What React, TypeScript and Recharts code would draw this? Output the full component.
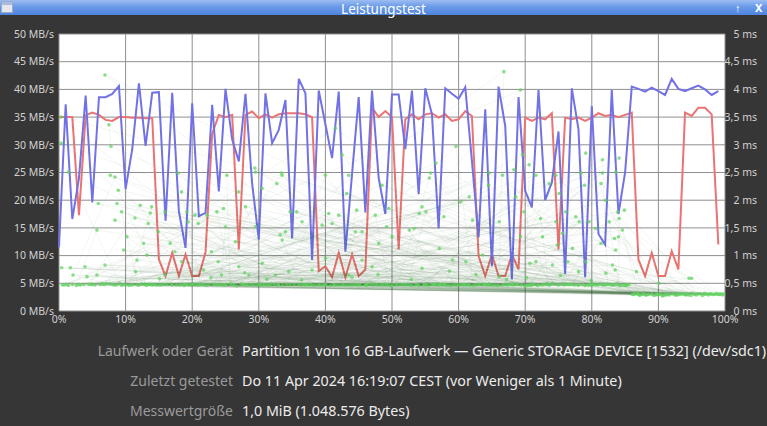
import React from 'react';
import { ComposedChart, Line, Scatter, XAxis, YAxis, CartesianGrid } from 'recharts';

const percentTicks = [0, 10, 20, 30, 40, 50, 60, 70, 80, 90, 100];
const rateTicks = [0, 5, 10, 15, 20, 25, 30, 35, 40, 45, 50];
const msTicks = [0, 0.5, 1, 1.5, 2, 2.5, 3, 3.5, 4, 4.5, 5];

// read rate (MB/s) at 0..99 %
const readRate = [
  11.5, 37.3, 16.6, 24, 38.9, 19.6, 38.6, 38.6, 39.2, 40.6,
  22, 29.2, 41.1, 29.8, 39.4, 39.5, 16.3, 39.4, 18, 11.4,
  37.5, 17.1, 17.7, 37.2, 21.6, 40.1, 31, 27, 39.2, 23,
  12.9, 39.3, 30.3, 32.7, 38.1, 13.1, 41.9, 39.3, 9.2, 39.8,
  33.7, 27.6, 39.6, 10.7, 24.7, 38.6, 17.8, 39.8, 24, 17.5,
  39.1, 39.1, 29.2, 39.8, 21.1, 40.2, 35.5, 14.9, 40.2, 39.2,
  38.3, 40.4, 27.1, 13.3, 36.4, 8.1, 40.5, 33.4, 5.7, 38.6,
  21.7, 18.7, 39.9, 20, 23.2, 32.4, 6.7, 40.2, 32.8, 6.1,
  37, 13.9, 12, 39.9, 17.5, 25, 40.5, 40.1, 39.6, 40.3,
  39.7, 39, 41.9, 40.1, 39.7, 40.2, 40.7, 40, 39, 39.7,
];

// write rate (MB/s) at 0..99 %
const writeRate = [
  35, 35, 35, 17.3, 35.3, 35.8, 35.4, 34.5, 34.3, 35,
  35, 34.9, 34.9, 34.8, 34.8, 9.3, 6.3, 10.5, 6.3, 10.2,
  6.3, 6.3, 10.6, 32, 35.4, 35, 35.4, 11.1, 35.4, 36,
  34.8, 35.5, 34.9, 35.5, 35.7, 35.7, 35.7, 35.5, 35, 7.2,
  8.1, 6.1, 10.5, 6.1, 10.2, 6.3, 7.5, 36.7, 35, 36.1,
  35, 11.1, 34.6, 35.5, 34.6, 35.5, 35.7, 34.9, 35.5, 34.3,
  34.6, 36.1, 35.2, 9.9, 6.3, 10.2, 6.3, 6.3, 10.2, 7.5,
  34.9, 34.3, 34.9, 34.6, 35.7, 11.1, 34.9, 34.6, 34.9, 34.3,
  34.9, 35.7, 35.2, 35.4, 35, 35.4, 35.8, 9.3, 6.3, 10.5,
  6.3, 6.3, 10.8, 7.5, 35.8, 35.2, 36.7, 36.7, 35.5, 12,
];

// access time samples in measurement order: [position %, ms]
const accessSamples: [number, number][] = [
  [3.2,0.47],[47.5,0.48],[6.9,4.26],[71.8,0.46],[12.4,0.49],[58.1,0.47],[0.3,3.03],[26.7,0.45],[88.5,0.30],[80.3,0.48],
  [5.9,1.94],[39.2,0.47],[64.6,0.49],[18.8,0.46],[33.5,2.45],[51.3,0.48],[77.4,0.47],[92.7,0.29],[9.1,0.50],[1.4,2.51],
  [33.6,0.47],[69.9,0.45],[22.5,0.48],[7.7,2.45],[45.0,0.47],[83.7,0.49],[97.9,0.31],[1.4,0.46],[8.4,2.42],[56.2,0.48],
  [29.8,0.47],[74.1,0.50],[8.9,2.18],[15.3,0.47],[61.7,0.46],[89.3,0.28],[37.4,0.48],[8.7,1.94],[84.9,0.47],[7.6,0.49],
  [49.9,0.45],[8.4,1.64],[25.1,0.48],[67.3,0.47],[95.1,0.32],[11.8,0.47],[9.4,1.79],[42.6,0.48],[79.0,0.46],[10.2,1.34],
  [20.2,0.49],[54.7,0.47],[99.6,0.29],[35.9,0.48],[9.7,1.10],[72.5,0.47],[2.6,0.46],[5.7,1.46],[60.4,0.48],[31.3,0.47],
  [87.8,0.31],[82.1,0.48],[3.9,0.80],[14.0,0.47],[46.8,0.49],[0.4,0.78],[66.0,0.46],[23.9,0.48],[93.9,0.30],[53.5,0.47],
  [1.7,0.78],[76.2,0.48],[8.3,0.47],[2.1,0.65],[40.7,0.46],[63.2,0.48],[5.7,0.65],[17.6,0.47],[90.6,0.27],[50.6,0.49],
  [6.9,0.83],[85.3,0.47],[28.4,0.48],[11.4,1.68],[70.4,0.46],[4.5,0.48],[12.2,1.91],[44.1,0.47],[98.4,0.30],[57.8,0.48],
  [13.4,1.58],[19.7,0.47],[81.2,0.49],[13.7,1.77],[36.6,0.48],[65.4,0.47],[13.9,1.88],[10.5,0.46],[96.3,0.31],[48.3,0.48],
  [12.7,1.22],[73.7,0.47],[27.3,0.49],[13.2,1.01],[59.3,0.48],[13.1,0.46],[11.7,0.92],[41.8,0.47],[91.2,0.29],[78.6,0.48],
  [14.9,1.43],[24.6,0.47],[55.4,0.46],[15.9,1.79],[6.8,0.48],[38.5,0.47],[17.9,2.49],[68.7,0.49],[99.0,0.30],[21.3,0.48],
  [18.4,2.15],[52.0,0.47],[84.2,0.46],[19.2,1.79],[32.4,0.48],[62.5,0.47],[86.9,0.32],[19.4,1.61],[16.2,0.48],[45.9,0.47],
  [20.4,1.73],[75.5,0.49],[0.8,0.47],[20.9,1.58],[34.7,0.48],[58.9,0.46],[94.5,0.29],[22.2,1.73],[80.9,0.47],[26.0,0.48],
  [23.7,1.79],[43.3,0.47],[71.0,0.49],[16.7,1.22],[9.8,0.48],[54.1,0.46],[97.2,0.31],[17.4,1.07],[30.6,0.47],[67.9,0.48],
  [22.9,1.07],[18.1,0.47],[48.9,0.49],[23.9,0.89],[83.0,0.47],[90.0,0.30],[39.9,0.48],[18.4,0.89],[61.1,0.47],[21.7,0.74],
  [2.0,0.48],[44.8,0.47],[15.9,0.65],[70.9,0.46],[88.1,0.29],[13.8,0.48],[24.4,0.65],[57.0,0.47],[25.2,2.45],[25.7,0.49],
  [79.7,0.47],[24.7,1.85],[6.2,0.48],[38.1,0.47],[99.8,0.31],[29.5,2.51],[65.8,0.46],[19.3,0.48],[32.7,2.30],[52.7,0.47],
  [76.8,0.48],[27.0,2.15],[10.0,0.47],[93.3,0.30],[28.0,1.88],[31.9,0.49],[68.3,0.47],[30.5,2.21],[23.2,0.48],[46.2,0.46],
  [34.7,1.79],[82.8,0.48],[87.2,0.28],[35.7,1.79],[0.5,0.47],[55.9,0.48],[36.5,1.61],[28.9,0.47],[73.2,0.49],[34.0,1.43],
  [14.6,0.47],[96.9,0.32],[33.2,1.37],[62.9,0.48],[36.2,0.47],[33.5,1.28],[84.5,0.46],[8.0,0.48],[29.5,1.52],[50.1,0.47],
  [91.7,0.29],[25.0,1.52],[24.2,0.48],[66.6,0.47],[26.5,1.25],[12.9,0.49],[30.5,0.86],[41.2,0.48],[78.0,0.47],[27.0,0.80],
  [98.8,0.31],[21.7,0.48],[28.5,0.65],[53.0,0.46],[40.0,2.45],[34.2,0.48],[72.0,0.47],[41.5,3.30],[3.7,0.48],[89.8,0.30],
  [42.5,2.82],[59.7,0.47],[43.5,2.45],[30.1,0.49],[81.6,0.47],[43.2,2.12],[15.7,0.48],[40.5,1.76],[47.1,0.47],[94.9,0.28],
  [39.5,1.55],[64.1,0.48],[22.1,0.46],[41.0,1.58],[57.4,0.48],[42.0,1.73],[75.0,0.47],[7.1,0.49],[86.1,0.30],[44.7,1.82],
  [42.2,0.47],[44.5,1.43],[63.7,0.48],[45.5,1.43],[17.0,0.47],[47.5,1.73],[49.5,0.48],[93.6,0.31],[48.5,2.27],[85.0,0.46],
  [49.5,1.85],[27.8,0.48],[49.2,1.52],[69.4,0.47],[48.0,1.22],[5.0,0.48],[97.5,0.29],[45.5,0.92],[40.1,0.47],[40.0,0.95],
  [60.9,0.48],[38.0,0.74],[20.7,0.47],[90.3,0.30],[34.5,0.71],[32.5,0.65],[43.5,0.65],[47.0,0.80],[69.3,3.99],[1.1,0.48],
  [36.9,0.47],[59.6,2.97],[62.2,0.46],[87.5,0.30],[56.6,2.67],[11.1,0.48],[50.8,0.47],[55.8,2.49],[74.7,0.48],[55.6,2.40],
  [26.3,0.47],[94.1,0.29],[64.6,2.49],[44.4,0.48],[81.9,0.47],[66.6,2.45],[16.9,0.49],[68.3,2.55],[58.5,0.47],[99.4,0.31],
  [69.6,2.82],[33.0,0.48],[70.1,0.46],[70.6,2.64],[4.9,0.48],[73.6,2.30],[47.8,0.47],[91.0,0.30],[74.6,2.45],[66.9,0.48],
  [20.0,0.47],[71.6,2.45],[55.1,0.49],[68.6,2.06],[85.2,0.47],[96.6,0.28],[64.5,2.27],[29.3,0.48],[61.6,2.06],[39.6,0.47],
  [76.5,0.48],[60.3,1.97],[9.4,0.46],[89.0,0.31],[54.5,1.88],[63.9,0.48],[54.1,1.76],[24.9,0.47],[55.1,1.79],[52.3,0.48],
  [79.4,0.47],[53.3,1.49],[92.9,0.29],[14.3,0.48],[57.8,1.70],[42.9,0.47],[57.1,1.13],[68.9,0.48],[50.0,1.34],[31.6,0.47],
  [98.1,0.30],[52.6,1.46],[57.9,0.48],[62.1,1.64],[83.3,0.47],[6.5,0.49],[66.1,1.61],[46.4,0.48],[86.5,0.31],[69.8,1.79],
  [73.5,0.47],[72.3,1.67],[18.6,0.48],[74.6,1.61],[60.0,0.47],[69.3,1.34],[95.4,0.30],[37.8,0.48],[72.6,1.34],[80.6,0.47],
  [74.8,1.19],[2.9,0.48],[63.6,1.01],[90.8,0.28],[43.7,0.47],[61.1,0.89],[71.3,0.48],[59.1,0.92],[15.0,0.47],[54.5,0.77],
  [97.7,0.31],[56.7,0.48],[71.6,0.89],[77.9,0.47],[74.1,0.83],[35.3,0.48],[66.1,0.62],[66.8,4.32],[21.0,0.47],[88.2,0.29],
  [79.1,2.85],[61.5,0.48],[84.1,2.76],[45.3,0.47],[81.6,2.73],[82.4,0.48],[94.3,0.30],[78.4,2.49],[8.6,0.47],[81.6,2.49],
  [53.8,0.48],[83.6,2.51],[70.6,0.47],[81.4,2.30],[96.0,0.31],[27.6,0.48],[78.9,2.27],[65.0,0.47],[75.1,2.12],[39.0,0.48],
  [82.1,2.00],[89.6,0.29],[12.0,0.47],[83.9,1.79],[77.0,0.48],[84.9,1.82],[48.6,0.47],[76.1,1.79],[99.2,0.30],[23.5,0.48],
  [77.6,1.70],[60.7,0.47],[84.1,1.67],[84.0,0.48],[82.6,1.61],[92.2,0.31],[32.9,0.47],[79.6,1.61],[67.6,0.48],[78.1,1.61],
  [5.4,0.47],[84.6,1.46],[87.0,0.30],[51.7,0.48],[80.6,1.49],[75.8,0.47],[75.6,1.40],[19.0,0.48],[83.4,1.31],[95.7,0.29],
  [41.4,0.47],[81.4,1.22],[72.8,0.48],[83.6,1.10],[28.1,0.47],[77.1,1.13],[91.4,0.30],[57.2,0.48],[79.1,0.89],[80.1,0.47],
  [76.4,0.89],[13.5,0.48],[83.1,0.83],[98.6,0.31],[49.2,0.47],[82.1,0.68],[94.6,0.59],[90.1,0.50],[70.7,0.86],[37.1,0.48],
  [78.0,0.71],[86.3,0.30],[83.5,0.74],[64.4,0.47],[84.0,1.34],[95.0,0.59],[93.0,0.31],[86.7,0.71],[0.3,3.50],[30.9,0.48],
  [7.5,3.36],[7.8,2.97],[54.9,0.47],[29.4,2.58],[33.4,2.49],[79.8,0.48],[97.0,0.30],[4.2,0.62],[46.1,0.47],[15.1,0.58],
  [27.9,0.69],[68.1,0.48],[36.4,0.56],[44.0,0.61],[10.9,0.47],[52.9,0.57],[62.6,0.66],[85.6,0.48],[70.2,0.60],[79.9,0.55],
  [11.5,0.71],[31.2,0.57],[58.6,0.72],[67.2,0.57],[92.5,0.29],[75.3,0.64],[22.8,0.60],[47.9,0.66],[56.4,0.48],[30.2,0.47],
];

const infoLabels = ['Laufwerk oder Gerät', 'Zuletzt getestet', 'Messwertgröße'];
const infoValues = [
  'Partition 1 von 16 GB-Laufwerk — Generic STORAGE DEVICE [1532] (/dev/sdc1)',
  'Do 11 Apr 2024 16:19:07 CEST (vor Weniger als 1 Minute)',
  '1,0 MiB (1.048.576 Bytes)',
];

const titleText = 'Leistungstest';

const rateData = readRate.map((r, i) => ({ pct: i, read: r, write: writeRate[i] }));
const accessData = accessSamples.map(([pct, ms]) => ({ pct, ms }));

const FONT = '"Noto Sans", "Open Sans", sans-serif';
const TICK_COLOR = '#d2d2d2';

const fmtMs = (v: number) => String(v).replace('.', ',') + ' ms';

const RightTick = (props: any) => {
  const { x, y, payload } = props;
  return (
    <text x={x + 32} y={y} dy="0.355em" textAnchor="end" fill={TICK_COLOR} fontSize={10.5} fontFamily={FONT}>
      {fmtMs(payload.value)}
    </text>
  );
};

const Dot = (props: any) => {
  const { cx, cy } = props;
  if (cx == null || cy == null) return null;
  return <circle cx={cx} cy={cy} r={1.8} fill="#5ed25e" fillOpacity={0.72} />;
};

export default function App() {
  return (
    <div style={{ position: 'absolute', left: 0, top: 0, width: 767, height: 426, background: '#363636', overflow: 'hidden', fontFamily: FONT }}>
      {/* title bar */}
      <div style={{ position: 'absolute', left: 0, top: 0, width: 767, height: 15, background: 'linear-gradient(#9dbdf2, #6a9ae8 45%, #4f84de)' }} />
      <div style={{ position: 'absolute', left: 1, top: 1, width: 12, height: 12, background: '#e4e8ee', border: '1px solid #9aaccc', boxSizing: 'border-box' }}>
        <div style={{ height: 3, background: '#aabbdd' }} />
      </div>
      <div style={{ position: 'absolute', left: 0, top: 0, width: 767, textAlign: 'center', color: '#ffffff', fontSize: 13.5, lineHeight: '18px', fontFamily: FONT }}>
        {titleText}
      </div>
      <div style={{ position: 'absolute', left: 735, top: 0, color: '#ffffff', fontSize: 11, lineHeight: '15px', fontWeight: 'bold' }}>↑</div>
      <div style={{ position: 'absolute', left: 755, top: 0, color: '#ffffff', fontSize: 11, lineHeight: '15px', fontWeight: 'bold' }}>X</div>

      <div style={{ position: 'absolute', left: 0, top: 0 }}>
        <ComposedChart width={767} height={330} data={rateData} margin={{ top: 34, right: 0, bottom: 0, left: 0 }}>
          <CartesianGrid stroke="#8f8f8f" strokeWidth={1} fill="#ffffff" fillOpacity={1} yAxisId="rate" />
          <XAxis
            dataKey="pct"
            type="number"
            domain={[0, 100]}
            ticks={percentTicks}
            height={19}
            tickSize={0}
            tickMargin={5}
            axisLine={false}
            tickLine={false}
            interval={0}
            tickFormatter={(v: number) => `${v}%`}
            tick={{ fill: TICK_COLOR, fontSize: 10.5, fontFamily: FONT }}
          />
          <YAxis
            yAxisId="rate"
            orientation="left"
            domain={[0, 50]}
            ticks={rateTicks}
            width={59}
            tickSize={0}
            tickMargin={5}
            axisLine={false}
            tickLine={false}
            interval={0}
            tickFormatter={(v: number) => `${v} MB/s`}
            tick={{ fill: TICK_COLOR, fontSize: 10.5, fontFamily: FONT }}
          />
          <YAxis
            yAxisId="ms"
            dataKey="ms"
            orientation="right"
            domain={[0, 5]}
            ticks={msTicks}
            width={42}
            tickSize={0}
            tickMargin={0}
            axisLine={false}
            tickLine={false}
            interval={0}
            tick={<RightTick />}
          />
          <Scatter
            yAxisId="ms"
            data={accessData}
            dataKey="ms"
            isAnimationActive={false}
            line={{ stroke: '#2a552a', strokeOpacity: 0.07, strokeWidth: 0.8 }}
            lineType="joint"
            shape={<Dot />}
          />
          <Line yAxisId="rate" dataKey="write" type="linear" stroke="#ec7373" strokeWidth={2} dot={false} isAnimationActive={false} />
          <Line yAxisId="rate" dataKey="read" type="linear" stroke="#7272e6" strokeWidth={2} dot={false} isAnimationActive={false} />
        </ComposedChart>
      </div>

      {infoLabels.map((label, i) => (
        <div key={label} style={{ position: 'absolute', top: 341 + i * 30, left: 0, width: 767, height: 20, fontSize: 14, lineHeight: '20px' }}>
          <span style={{ position: 'absolute', right: 767 - 233, color: '#9a9a9a', whiteSpace: 'nowrap' }}>{label}</span>
          <span style={{ position: 'absolute', left: 242, color: '#ececec', whiteSpace: 'nowrap', fontSize: 14.3 }}>{infoValues[i]}</span>
        </div>
      ))}
    </div>
  );
}
